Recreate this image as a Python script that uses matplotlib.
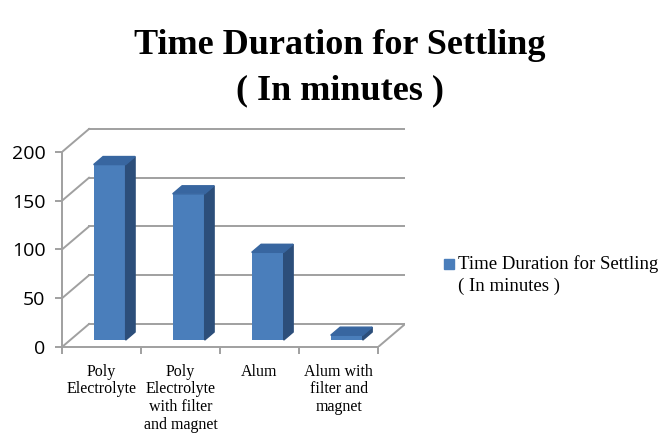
import numpy as np
import matplotlib
matplotlib.use('Agg')
import matplotlib.pyplot as plt
from matplotlib.patches import Polygon, Rectangle

# data
categories = ['Poly\nElectrolyte', 'Poly\nElectrolyte\nwith filter\nand magnet', 'Alum',
              'Alum with\nfilter and\nmagnet']
values = [180, 150, 90, 5]
yticks = [0, 50, 100, 150, 200]
series_name = 'Time Duration for Settling\n( In minutes )'

# fake 3d depth (in data units)
DX, DY = 0.342, 23.6
d0, d1 = 0.30, 0.65
bar_w = 0.405

front_c = '#4a7ebb'
side_c = '#2c4e7a'
top_c = '#3866a0'
grid_c = '#a0a0a0'

fig = plt.figure(figsize=(6.64, 4.36), dpi=100)
ax = fig.add_axes([62 / 664, 89 / 436, 343 / 664, 227 / 436])
ax.set_xlim(-0.5, 3.84)
ax.set_ylim(0, 232.8)
ax.patch.set_alpha(0)

# back wall gridlines and left wall diagonals
for v in yticks:
    ax.plot([-0.5 + DX, 3.5 + DX], [v + DY, v + DY], color=grid_c, lw=1.4, zorder=1)
    ax.plot([-0.5, -0.5 + DX], [v, v + DY], color=grid_c, lw=1.4, zorder=1)
# floor right edge
ax.plot([3.5, 3.5 + DX], [0, DY], color=grid_c, lw=1.4, zorder=1)

# bars
x = np.arange(len(values))
for i, v in zip(x, values):
    xl = i - bar_w / 2 + d0 * DX
    xr = i + bar_w / 2 + d0 * DX
    yb = d0 * DY
    yt = v + d0 * DY
    ox, oy = (d1 - d0) * DX, (d1 - d0) * DY
    ax.bar(xl, v, width=bar_w, bottom=yb, align='edge', color=front_c, zorder=3)
    ax.add_patch(Polygon([(xr, yb), (xr, yt), (xr + ox, yt + oy), (xr + ox, yb + oy)],
                         closed=True, color=side_c, zorder=3))
    ax.add_patch(Polygon([(xl, yt), (xr, yt), (xr + ox, yt + oy), (xl + ox, yt + oy)],
                         closed=True, color=top_c, zorder=4))

# axes styling
for s in ['top', 'right']:
    ax.spines[s].set_visible(False)
for s in ['left', 'bottom']:
    ax.spines[s].set_color(grid_c)
    ax.spines[s].set_linewidth(1.4)
ax.spines['left'].set_bounds(0, 200)
ax.spines['bottom'].set_bounds(-0.5, 3.5)

ax.set_yticks(yticks)
ax.set_yticklabels([str(t) for t in yticks], fontfamily='Open Sans', fontsize=14)
ax.tick_params(axis='y', length=5, width=1.4, color=grid_c, pad=7)

ax.set_xticks(x)
ax.set_xticklabels(categories, fontfamily='Liberation Serif', fontsize=11.5,
                   linespacing=1.15, va='top')
ax.set_xticks(np.arange(-0.5, len(values), 1.0), minor=True)
ax.tick_params(axis='x', which='major', length=0, pad=12)
ax.tick_params(axis='x', which='minor', length=5, width=1.4, color=grid_c)

# title
fig.text(340 / 664, 1 - 54 / 436, 'Time Duration for Settling', ha='center', va='baseline',
         fontfamily='Liberation Serif', fontweight='bold', fontsize=26)
fig.text(340 / 664, 1 - 99 / 436, '( In minutes )', ha='center', va='baseline',
         fontfamily='Liberation Serif', fontweight='bold', fontsize=26)

# legend
fig.patches.append(Rectangle((444 / 664, 1 - 269 / 436), 10 / 664, 10 / 436,
                             transform=fig.transFigure, color=front_c))
fig.text(458 / 664, 1 - 275 / 436, series_name, ha='left', va='center',
         fontfamily='Liberation Serif', fontsize=13.5, linespacing=1.3)

fig.savefig('out.png', dpi=100)
